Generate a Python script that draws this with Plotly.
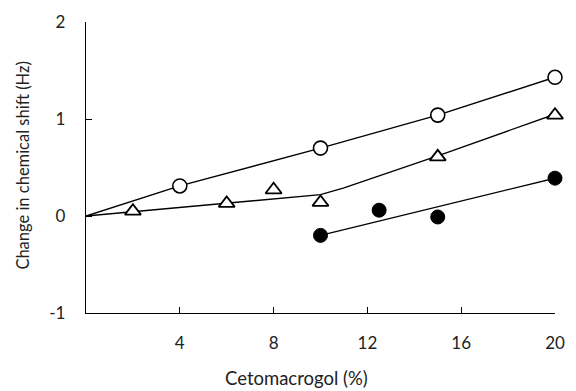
import plotly.graph_objects as go

# Open circles
oc_x = [0, 4, 10, 15, 20]
oc_y = [0, 0.31, 0.70, 1.04, 1.43]
# Open triangles (points)
tri_x = [2, 6, 8, 10, 15, 20]
tri_y = [0.05, 0.13, 0.27, 0.14, 0.61, 1.04]
# Triangle fitted line
tri_fit_x = [0, 10, 11, 15, 20]
tri_fit_y = [0, 0.22, 0.29, 0.62, 1.05]
# Filled circles
fc_x = [10, 12.5, 15, 20]
fc_y = [-0.20, 0.06, -0.01, 0.39]
fc_fit_x = [10, 20]
fc_fit_y = [-0.20, 0.39]

x_ticks = [4, 8, 12, 16, 20]
y_ticks = [-1, 0, 1, 2]
y_tick_text = ["-1", "0", "1", "2"]

line_style = dict(color="black", width=1.4)
fig = go.Figure()
fig.add_trace(go.Scatter(x=tri_fit_x, y=tri_fit_y, mode="lines", line=line_style, cliponaxis=False))
fig.add_trace(go.Scatter(x=fc_fit_x, y=fc_fit_y, mode="lines", line=line_style, cliponaxis=False))
fig.add_trace(go.Scatter(x=oc_x, y=oc_y, mode="lines", line=line_style, cliponaxis=False))
fig.add_trace(go.Scatter(x=oc_x[1:], y=oc_y[1:], mode="markers", cliponaxis=False,
                         marker=dict(symbol="circle", size=14, color="white",
                                     line=dict(color="black", width=1.6))))
fig.add_trace(go.Scatter(x=tri_x, y=tri_y, mode="markers", cliponaxis=False,
                         marker=dict(symbol="triangle-up", size=14, color="white",
                                     line=dict(color="black", width=1.8))))
fig.add_trace(go.Scatter(x=fc_x, y=fc_y, mode="markers", cliponaxis=False,
                         marker=dict(symbol="circle", size=14, color="black",
                                     line=dict(color="black", width=1))))

fam = "Lato, Open Sans, sans-serif"
tick_font = dict(family=fam, size=17, color="#222")
fig.update_layout(
    width=576, height=391,
    margin=dict(l=86, r=11, t=21, b=78),
    paper_bgcolor="white", plot_bgcolor="white",
    showlegend=False,
    font=tick_font,
)
fig.update_xaxes(range=[0, 20], tickvals=x_ticks, ticks="inside", ticklen=6,
                 tickcolor="black", tickwidth=1.4, tickfont=tick_font,
                 showline=True, linecolor="black", linewidth=1.4,
                 showgrid=False, zeroline=False, ticklabelstandoff=14)
fig.update_yaxes(range=[-1, 2], tickvals=y_ticks, ticktext=y_tick_text, ticks="inside",
                 ticklen=6, tickcolor="black", tickwidth=1.4, tickfont=tick_font,
                 showline=True, linecolor="black", linewidth=1.4,
                 showgrid=False, zeroline=False, ticklabelstandoff=16)

fig.add_annotation(text="Cetomacrogol (%)", xref="paper", yref="paper",
                   x=0.449, y=-0.222, showarrow=False, xanchor="center", yanchor="middle",
                   font=dict(family=fam, size=18.5, color="#222"))
fig.add_annotation(text="Change in chemical shift (Hz)", xref="paper", yref="paper",
                   x=-0.134, y=0.507, textangle=-90, showarrow=False,
                   xanchor="center", yanchor="middle",
                   font=dict(family=fam, size=16.5, color="#222"))

fig.write_html("out.html")
